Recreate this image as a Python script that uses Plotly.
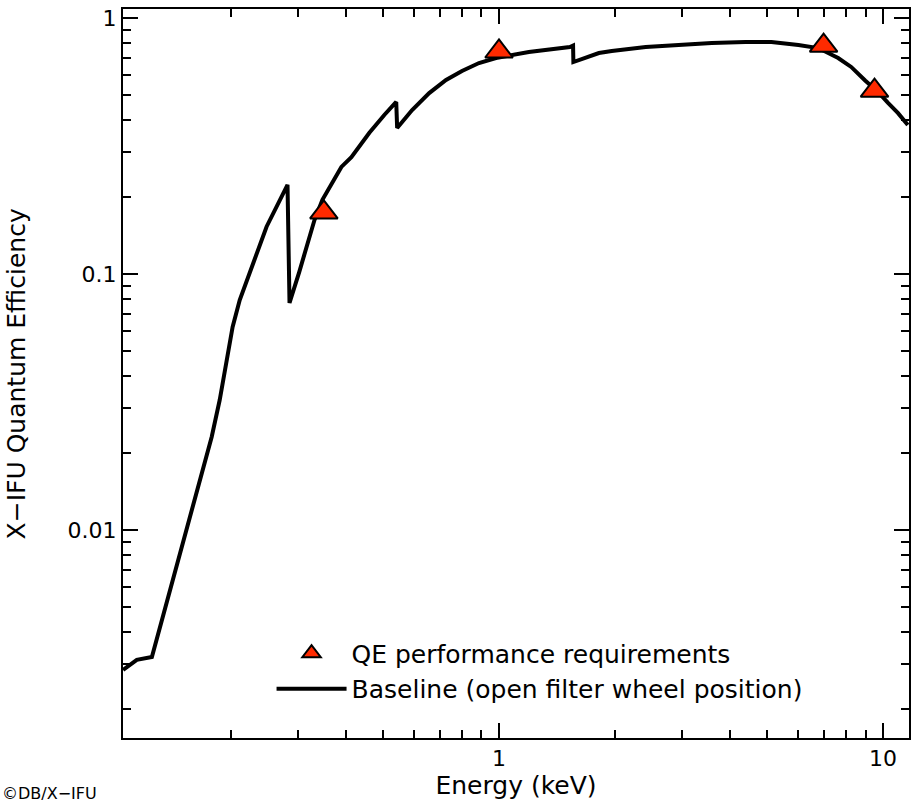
import plotly.graph_objects as go

# Baseline QE curve (energy in keV, quantum efficiency)
energy = [0.105, 0.114, 0.1248, 0.1415, 0.1614, 0.1786, 0.1874, 0.1954, 0.2025, 0.2113,
          0.2242, 0.2482, 0.2814, 0.2848, 0.302, 0.3152, 0.3308, 0.3469, 0.3887, 0.4127,
          0.4597, 0.5027, 0.540, 0.543, 0.594, 0.658, 0.728, 0.801, 0.887, 0.982,
          1.196, 1.529, 1.559, 1.562, 1.82, 1.966, 2.41, 2.935, 3.58, 4.38,
          5.12, 6.02, 6.78, 7.64, 8.26, 8.98, 9.70, 10.3, 10.94, 11.6]
qe = [0.00284, 0.00311, 0.00319, 0.00638, 0.0131, 0.0231, 0.0322, 0.0461, 0.0621, 0.0791,
      0.101, 0.153, 0.223, 0.0771, 0.102, 0.127, 0.1625, 0.195, 0.262, 0.286,
      0.356, 0.418, 0.470, 0.372, 0.437, 0.509, 0.573, 0.621, 0.667, 0.698,
      0.737, 0.770, 0.780, 0.673, 0.730, 0.743, 0.770, 0.784, 0.799, 0.806,
      0.806, 0.784, 0.763, 0.698, 0.644, 0.570, 0.514, 0.466, 0.425, 0.382]

# QE performance requirements
req_energy = [0.35, 1.0, 7.0, 9.5]
req_qe = [0.174, 0.74, 0.78, 0.52]

x_major = [1, 10]
x_major_text = ["1", "10"]
x_minor = [0.2, 0.3, 0.4, 0.5, 0.6, 0.7, 0.8, 0.9, 2, 3, 4, 5, 6, 7, 8, 9]
y_major = [0.01, 0.1, 1]
y_major_text = ["0.01", "0.1", "1"]
y_minor = [0.002, 0.003, 0.004, 0.005, 0.006, 0.007, 0.008, 0.009,
           0.02, 0.03, 0.04, 0.05, 0.06, 0.07, 0.08, 0.09,
           0.2, 0.3, 0.4, 0.5, 0.6, 0.7, 0.8, 0.9]

FONT = "DejaVu Sans"
FS_TICK = 22
FS = 25

fig = go.Figure()
fig.add_trace(go.Scatter(
    x=energy, y=qe, mode="lines",
    name="Baseline (open filter wheel position)",
    line=dict(color="black", width=4),
))
fig.add_trace(go.Scatter(
    x=req_energy, y=req_qe, mode="markers",
    name="QE performance requirements",
    marker=dict(symbol="triangle-up", size=24, color="#ff2a00",
                line=dict(color="black", width=2)),
))

axis_common = dict(
    type="log", showgrid=False, zeroline=False,
    showline=True, linecolor="black", linewidth=2, mirror="ticks",
    ticks="inside", ticklen=15, tickwidth=2, tickcolor="black",
    tickfont=dict(family=FONT, size=FS_TICK, color="black"),
)

fig.update_xaxes(
    **axis_common,
    range=[-0.979, 1.0675],
    tickvals=x_major, ticktext=x_major_text,
    minor=dict(tickvals=x_minor, ticks="inside", ticklen=8, tickwidth=2, tickcolor="black"),
    title=dict(text="Energy (keV)", font=dict(family=FONT, size=FS, color="black"), standoff=4),
)
fig.update_yaxes(
    **axis_common,
    range=[-2.8125, 0.0352],
    tickvals=y_major, ticktext=y_major_text,
    minor=dict(tickvals=y_minor, ticks="inside", ticklen=8, tickwidth=2, tickcolor="black"),
)

fig.update_layout(
    width=913, height=806,
    margin=dict(l=123, r=2, t=9, b=68),
    plot_bgcolor="white", paper_bgcolor="white",
    font=dict(family=FONT, size=FS, color="black"),
    legend=dict(
        x=0.189, y=0.092, xanchor="left", yanchor="middle",
        bgcolor="rgba(0,0,0,0)", borderwidth=0,
        font=dict(family=FONT, size=FS, color="black"),
        traceorder="reversed", itemwidth=70, tracegroupgap=0,
    ),
    annotations=[
        dict(text="X−IFU Quantum Efficiency", textangle=-90,
             xref="paper", yref="paper", x=-0.156, xanchor="left", y=0.5, yanchor="middle",
             showarrow=False, font=dict(family=FONT, size=FS, color="black")),
        dict(text="©DB/X−IFU", xref="paper", yref="paper",
             x=-0.156, xanchor="left", y=-0.076, yanchor="middle",
             showarrow=False, font=dict(family=FONT, size=16, color="black")),
    ],
)

fig.write_html("out.html")
